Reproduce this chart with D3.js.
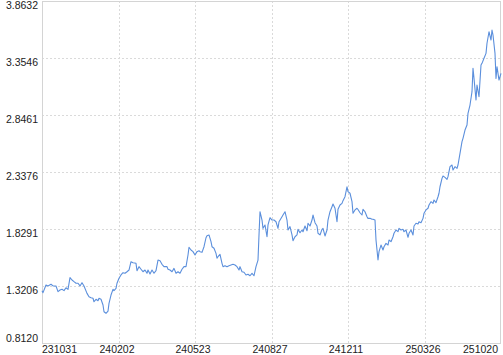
<!DOCTYPE html>
<html>
<head>
<meta charset="utf-8">
<script src="https://cdn.jsdelivr.net/npm/d3@7"></script>
<style>
  body { margin: 0; background: #fff; }
  text { font-family: "Liberation Sans", Arial, sans-serif; font-size: 10.5px; fill: #222; }
</style>
</head>
<body>
<script>
// trading day index (0 = 231031) and net value
var dayIdx = [0,1,4,6,9,11,14,16,18,20,22,24,26,28,30,32,34,36,38,40,42,45,47,49,51,52,54,56,57,59,61,62,64,66,67,69,71,72,74,
    75,77,79,81,83,85,87,89,91,94,95,97,99,101,103,105,106,108,110,112,114,116,118,120,122,125,126,128,130,132,134,136,138,140,142,144,146,147,149,151,153,155,157,
    158,160,162,164,165,167,169,170,172,174,175,176,178,180,181,183,185,187,189,191,193,195,197,198,200,202,204,206,208,210,212,214,216,217,218,220,221,223,225,226,228,230,232,234,236,237,
    240,241,243,245,246,248,250,251,253,255,256,258,260,261,263,265,266,268,270,271,273,275,276,278,280,281,283,285,286,288,290,291,293,295,296,298,300,301,303,305,306,308,310,311,313,315,316,
    318,320,321,323,325,326,328,330,331,333,334,336,337,339,341,342,344,346,347,349,351,352,354,356,357,359,361,362,364,366,367,369,371,372,374,376,377,379,381,382,384,386,387,389,391,392,394,396,397,
    398,400,401,403,405,406,408,410,411,413,415,416,418,420,421,423,425,426,428,430,431,432,434,435,437,439,440,442,444,445,447,449,450,451,453,454,455,457,459];

var nav = [1.279,1.261,1.329,1.321,1.336,1.321,1.321,1.270,1.285,1.291,1.279,1.305,1.291,1.395,1.374,1.359,1.345,1.345,1.321,1.350,1.321,1.255,1.225,1.216,1.211,1.180,1.202,1.189,1.211,1.202,1.151,1.091,1.077,1.097,1.166,1.240,1.291,1.279,1.300,
    1.345,1.389,1.419,1.439,1.434,1.448,1.463,1.537,1.528,1.523,1.457,1.493,1.470,1.448,1.463,1.434,1.463,1.428,1.463,1.434,1.457,1.552,1.546,1.514,1.493,1.493,1.470,1.463,1.448,1.478,1.434,1.448,1.434,1.470,1.493,1.493,1.597,1.666,1.642,1.627,1.597,1.627,1.635,
    1.627,1.621,1.671,1.751,1.769,1.776,1.716,1.671,1.657,1.612,1.568,1.582,1.603,1.523,1.493,1.502,1.493,1.502,1.508,1.514,1.508,1.493,1.463,1.493,1.448,1.443,1.419,1.425,1.412,1.434,1.412,1.493,1.552,1.776,1.983,1.909,1.835,1.865,1.760,1.865,1.930,1.909,1.909,1.894,1.835,1.894,
    1.939,1.954,1.983,1.909,1.820,1.850,1.776,1.725,1.760,1.776,1.826,1.796,1.820,1.805,1.856,1.814,1.880,1.856,1.909,1.954,1.885,1.856,1.791,1.776,1.826,1.835,1.767,1.820,1.909,1.983,2.028,2.052,2.014,1.894,2.005,2.043,2.058,2.082,2.117,2.206,2.162,2.148,2.073,1.969,1.999,2.014,2.003,
    1.974,1.954,2.005,1.983,1.939,1.924,1.924,1.916,1.916,1.909,1.731,1.552,1.627,1.686,1.642,1.671,1.701,1.686,1.731,1.716,1.760,1.791,1.820,1.805,1.835,1.820,1.826,1.805,1.820,1.755,1.791,1.820,1.776,1.856,1.880,1.874,1.894,1.885,1.924,1.969,1.999,2.014,2.043,2.073,2.058,2.088,2.064,2.117,2.148,
    2.206,2.281,2.302,2.290,2.272,2.296,2.385,2.400,2.355,2.385,2.370,2.400,2.504,2.608,2.638,2.712,2.757,2.861,2.935,3.054,3.263,3.173,2.980,3.114,3.009,3.292,3.307,3.352,3.396,3.486,3.589,3.515,3.604,3.560,3.396,3.173,3.277,3.158,3.218];

var xTickIdx = [0, 77, 153, 230, 306, 383, 459];
var xTickLabels = ["231031", "240202", "240523", "240827", "241211", "250326", "251020"];
var yTicks = [0.8120, 1.3206, 1.8291, 2.3376, 2.8461, 3.3546, 3.8632];

var w = 503,
    h = 355;
var plotLeft = 42, plotRight = 501, plotTop = 1, plotBottom = 343;

var x = d3.scaleLinear().domain([0, 459]).range([plotLeft, plotRight]);
var y = d3.scaleLinear().domain([yTicks[0], yTicks[yTicks.length - 1]]).range([plotBottom, plotTop]);

var svg = d3.select("body").append("svg")
    .attr("width", w)
    .attr("height", h);

// dashed grid
svg.append("g").selectAll("line")
    .data(yTicks.slice(1, -1))
    .enter().append("line")
    .attr("x1", plotLeft).attr("x2", plotRight)
    .attr("y1", function(d) { return Math.round(y(d)) + 0.5; })
    .attr("y2", function(d) { return Math.round(y(d)) + 0.5; })
    .attr("stroke", "#dadada")
    .attr("stroke-dasharray", "2,2");

svg.append("g").selectAll("line")
    .data(xTickIdx.slice(1, -1))
    .enter().append("line")
    .attr("y1", plotTop).attr("y2", plotBottom)
    .attr("x1", function(d) { return Math.round(x(d)) + 0.5; })
    .attr("x2", function(d) { return Math.round(x(d)) + 0.5; })
    .attr("stroke", "#dadada")
    .attr("stroke-dasharray", "2,2");

// frame
svg.append("rect")
    .attr("x", plotLeft + 0.5).attr("y", plotTop + 0.5)
    .attr("width", plotRight - plotLeft - 1).attr("height", plotBottom - plotTop)
    .attr("fill", "none")
    .attr("stroke", "#d4d4d4");

// y labels
svg.append("g").selectAll("text")
    .data(yTicks)
    .enter().append("text")
    .attr("x", 38)
    .attr("y", function(d, i) { return i == 0 ? y(d) - 1 : y(d) + 8; })
    .attr("text-anchor", "end")
    .text(function(d) { return d.toFixed(4); });

// x labels
svg.append("g").selectAll("text")
    .data(xTickIdx)
    .enter().append("text")
    .attr("x", function(d, i) {
        if (i == 0) return plotLeft;
        if (i == xTickIdx.length - 1) return plotRight - 3;
        return x(d) - 2;
    })
    .attr("y", 353)
    .attr("text-anchor", function(d, i) {
        if (i == 0) return "start";
        if (i == xTickIdx.length - 1) return "end";
        return "middle";
    })
    .text(function(d, i) { return xTickLabels[i]; });

var line = d3.line()
    .x(function(d, i) { return x(dayIdx[i]); })
    .y(function(d) { return y(d); });

svg.append("path")
    .datum(nav)
    .attr("d", line)
    .attr("fill", "none")
    .attr("stroke", "#5b8fdc")
    .attr("stroke-width", 1.1)
    .attr("stroke-linejoin", "round");
</script>
</body>
</html>
